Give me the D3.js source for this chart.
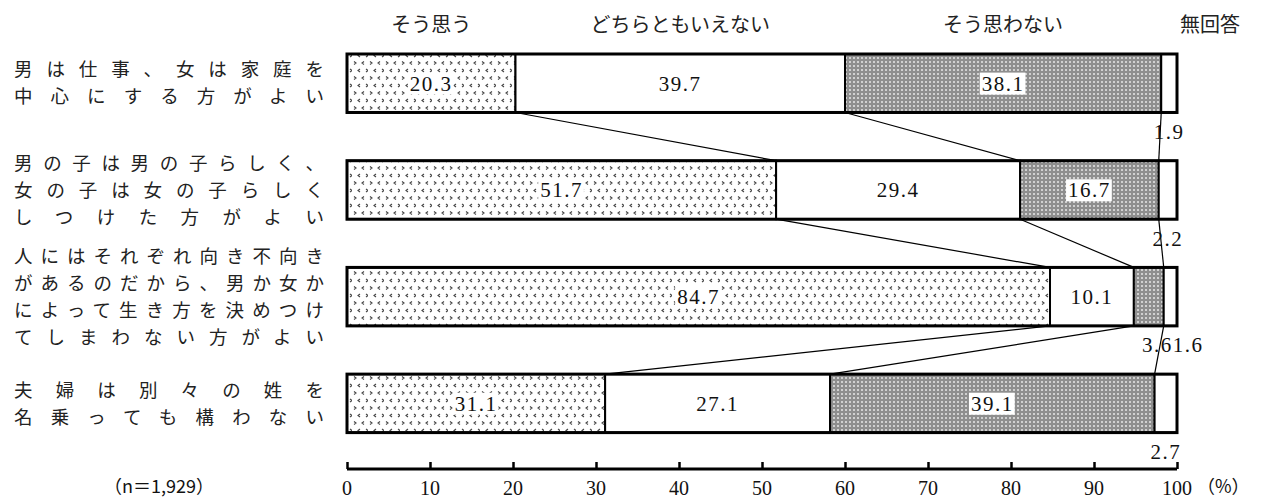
<!DOCTYPE html>
<html><head><meta charset="utf-8">
<script src="https://cdn.jsdelivr.net/npm/d3@7"></script>
<style>
html,body{margin:0;padding:0;background:#fff;}
svg{display:block;}
</style></head>
<body>
<svg id="chart" width="1266" height="500"></svg>
<script>
// ---- data ----
const seriesNames = ["そう思う", "どちらともいえない", "そう思わない", "無回答"];
const categoryLines = [
  ["男は仕事、女は家庭を", "中心にする方がよい"],
  ["男の子は男の子らしく、", "女の子は女の子らしく", "しつけた方がよい"],
  ["人にはそれぞれ向き不向き", "があるのだから、男か女か", "によって生き方を決めつけ", "てしまわない方がよい"],
  ["夫婦は別々の姓を", "名乗っても構わない"]
];
const agree    = [20.3, 51.7, 84.7, 31.1];
const neutral  = [39.7, 29.4, 10.1, 27.1];
const disagree = [38.1, 16.7, 3.6, 39.1];
const noAnswer = [1.9, 2.2, 1.6, 2.7];
const tickValues = [0, 10, 20, 30, 40, 50, 60, 70, 80, 90, 100];
const sampleNote = "（n＝1,929）";
const unitLabel = "（%）";

// ---- setup ----
const svg = d3.select("#chart");
const jp = "'Noto Sans CJK JP', sans-serif";
const num = "'Liberation Serif', 'DejaVu Serif', serif";

const x = d3.scaleLinear().domain([0, 100]).range([347, 1177]);
const y = d3.scaleBand().domain(d3.range(categoryLines.length)).range([54, 432.6]).paddingInner(0.452).paddingOuter(0);

const defs = svg.append("defs");
// dotted chevron pattern (そう思う)
const p1 = defs.append("pattern").attr("id", "pAgree").attr("patternUnits", "userSpaceOnUse")
  .attr("width", 16).attr("height", 15);
p1.append("rect").attr("width", 16).attr("height", 15).attr("fill", "#fff");
const chev = [
  "M2,1.5 L4,3 L2,4.5", "M12,1.5 L10,3 L12,4.5",
  "M8,9 L6,10.5 L8,12", "M14,9 L16,10.5 L14,12"
];
chev.forEach(d => p1.append("path").attr("d", d).attr("fill", "none").attr("stroke", "#444").attr("stroke-width", 1.1));
// grey screen pattern (そう思わない)
const p3 = defs.append("pattern").attr("id", "pDis").attr("patternUnits", "userSpaceOnUse")
  .attr("width", 4).attr("height", 4);
p3.append("rect").attr("width", 4).attr("height", 4).attr("fill", "#8e8e8e");
p3.append("rect").attr("x", 1).attr("y", 1).attr("width", 2).attr("height", 2).attr("fill", "#d0d0d0");

const fills = ["url(#pAgree)", "#fff", "url(#pDis)", "#fff"];

const rows = agree.map((a, i) => {
  const vals = [a, neutral[i], disagree[i], noAnswer[i]];
  let c = 0;
  const segs = vals.map((v, k) => { const s = {k, v, x0: c, x1: c + v}; c += v; return s; });
  return {i, segs};
});

// connector lines between bars
const conn = svg.append("g");
for (let i = 0; i < rows.length - 1; i++) {
  for (let k = 0; k < 3; k++) {
    conn.append("line")
      .attr("x1", x(rows[i].segs[k].x1)).attr("y1", y(i) + y.bandwidth())
      .attr("x2", x(rows[i + 1].segs[k].x1)).attr("y2", y(i + 1))
      .attr("stroke", "#000").attr("stroke-width", 1.2);
  }
}

// bars
const barG = svg.append("g");
rows.forEach(r => {
  const g = barG.append("g");
  g.selectAll("rect.seg").data(r.segs).join("rect").attr("class", "seg")
    .attr("x", d => x(d.x0)).attr("y", y(r.i))
    .attr("width", d => x(d.x1) - x(d.x0)).attr("height", y.bandwidth())
    .attr("fill", d => fills[d.k]).attr("stroke", "#000").attr("stroke-width", 2);
  g.append("rect").attr("x", x(0)).attr("y", y(r.i))
    .attr("width", x(100) - x(0)).attr("height", y.bandwidth())
    .attr("fill", "none").attr("stroke", "#000").attr("stroke-width", 3);

  // inside labels
  r.segs.filter(d => d.v >= 5).forEach(d => {
    const cx = (x(d.x0) + x(d.x1)) / 2, cy = y(r.i) + y.bandwidth() / 2;
    const t = g.append("text").attr("x", cx).attr("y", cy).attr("dy", "0.35em")
      .attr("text-anchor", "middle").attr("font-family", num).attr("font-size", 21)
      .attr("letter-spacing", 1.5).attr("fill", "#111").text(d.v.toFixed(1));
    if (d.k === 0 || d.k === 2) {
      const bb = t.node().getBBox();
      g.insert("rect", "text").attr("x", bb.x - 2).attr("y", bb.y + 1)
        .attr("width", bb.width + 3).attr("height", bb.height - 2).attr("fill", "#fff");
    }
  });
  // outside labels for small segments
  const small = r.segs.filter(d => d.v < 5);
  const by = y(r.i) + y.bandwidth() + 19;
  if (small.length === 1) {
    const d = small[0];
    g.append("text").attr("x", (x(d.x0) + x(d.x1)) / 2).attr("y", by).attr("dy", "0.35em")
      .attr("text-anchor", "middle").attr("font-family", num).attr("font-size", 21)
      .attr("letter-spacing", 1.5).attr("fill", "#111").text(d.v.toFixed(1));
  } else if (small.length === 2) {
    const split = x(small[0].x1) + 9;
    g.append("text").attr("x", split).attr("y", by).attr("dy", "0.35em")
      .attr("text-anchor", "end").attr("font-family", num).attr("font-size", 21)
      .attr("letter-spacing", 1.5).attr("fill", "#111").text(small[0].v.toFixed(1));
    g.append("text").attr("x", split).attr("y", by).attr("dy", "0.35em")
      .attr("text-anchor", "start").attr("font-family", num).attr("font-size", 21)
      .attr("letter-spacing", 1.5).attr("fill", "#111").text(small[1].v.toFixed(1));
  }
});

// category labels (justified)
const labG = svg.append("g");
categoryLines.forEach((lines, i) => {
  const lh = 27;
  const cy = y(i) + y.bandwidth() / 2;
  const start = cy - (lines.length - 1) * lh / 2;
  lines.forEach((ln, j) => {
    labG.append("text").attr("x", 14).attr("y", start + j * lh).attr("dy", "0.36em")
      .attr("font-family", jp).attr("font-size", 18.5).attr("fill", "#222")
      .attr("textLength", 310).attr("lengthAdjust", "spacing").text(ln);
  });
});

// series headers
const headG = svg.append("g");
const headX = [
  (x(0) + x(agree[0])) / 2,
  (x(agree[0]) + x(agree[0] + neutral[0])) / 2,
  (x(agree[0] + neutral[0]) + x(100 - noAnswer[0])) / 2,
  x(100) + 33
];
seriesNames.forEach((s, k) => {
  headG.append("text").attr("x", headX[k]).attr("y", 25).attr("dy", "0.35em")
    .attr("text-anchor", "middle").attr("font-family", jp).attr("font-size", 20)
    .attr("fill", "#222").text(s);
});

// axis
const axisG = svg.append("g").attr("transform", "translate(0,469)");
axisG.call(d3.axisTop(x).tickValues(tickValues).tickSize(7).tickFormat(""));
axisG.select(".domain").attr("d", `M${x(0)},0H${x(100)}`).attr("stroke-width", 3.2).attr("stroke", "#000");
axisG.selectAll(".tick line").attr("stroke-width", 2.5).attr("stroke", "#000");
svg.append("g").selectAll("text").data(tickValues).join("text")
  .attr("x", d => x(d)).attr("y", 488).attr("dy", "0.35em").attr("text-anchor", "middle")
  .attr("font-family", num).attr("font-size", 20).attr("fill", "#111").text(d => d);
svg.append("text").attr("x", x(100) + 20).attr("y", 487).attr("dy", "0.35em")
  .attr("font-family", jp).attr("font-size", 18).attr("fill", "#111").text(unitLabel);
svg.append("text").attr("x", 104).attr("y", 487).attr("dy", "0.35em")
  .attr("font-family", jp).attr("font-size", 18).attr("fill", "#111").text(sampleNote);
</script>
</body></html>
